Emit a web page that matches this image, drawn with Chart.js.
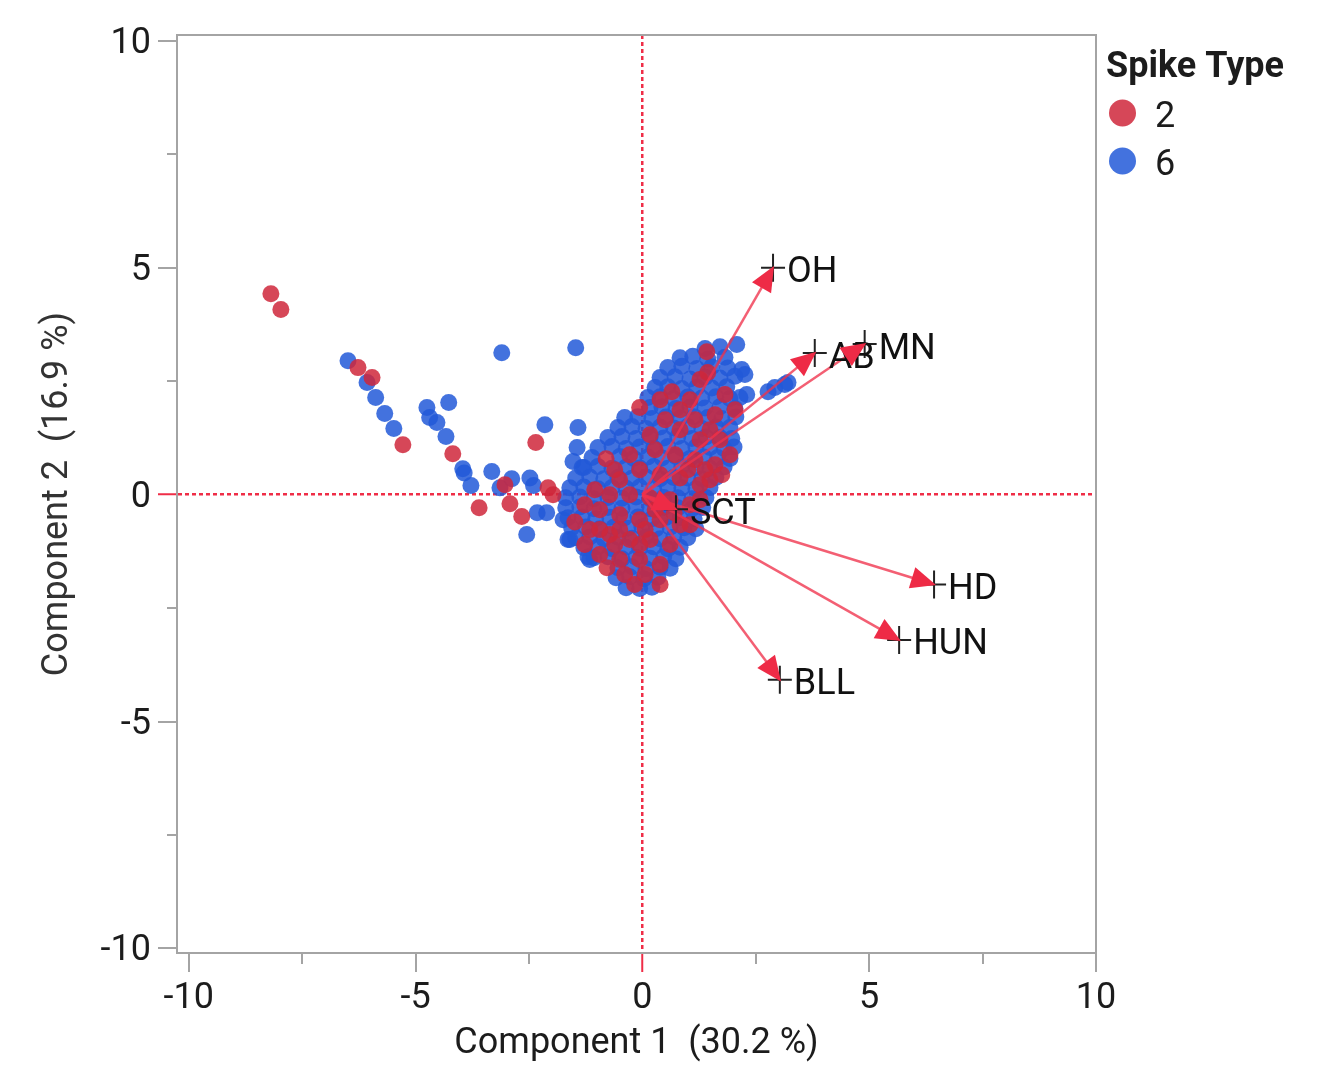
<!DOCTYPE html>
<html><head><meta charset="utf-8">
<script src="https://cdn.jsdelivr.net/npm/chart.js@4.4.0/dist/chart.umd.min.js"></script>
<style>html,body{margin:0;padding:0;background:#fff;overflow:hidden}canvas{display:block}</style>
</head><body>
<canvas id="c" width="1324" height="1066" style="width:1324px;height:1066px"></canvas>
<script>
// ---------- data ----------
const xTickValues = [-10, -7.5, -5, -2.5, 0, 2.5, 5, 7.5, 10];
const yTickValues = [-10, -7.5, -5, -2.5, 0, 2.5, 5, 7.5, 10];
const majorTicks = [-10, -5, 0, 5, 10];
const xTitle = 'Component 1  (30.2 %)';
const yTitle = 'Component 2  (16.9 %)';
const legendTitle = 'Spike Type';
const seriesNames = ['2', '6'];

const spike2Points = [
[-8.19,4.43],[-7.97,4.08],[-6.27,2.80],[-5.96,2.58],[-5.28,1.10],[-4.18,0.90],[-3.60,-0.29],[-3.03,0.22],
[-2.92,-0.20],[-2.66,-0.48],[-2.35,1.15],[-2.08,0.15],[-1.97,0.00],
[-0.06,1.92],[1.42,3.15],[-0.80,0.79],[0.65,2.27],[1.27,2.54],[1.05,2.09],[1.60,1.76],[2.04,1.87],[0.50,1.65],
[0.83,1.43],[1.27,1.21],[1.71,1.21],[0.28,0.99],[0.72,0.88],[1.16,0.77],[1.60,0.66],[1.93,0.88],[-0.06,0.55],
[0.39,0.44],[0.83,0.37],[1.27,0.22],[-0.50,0.33],[-0.72,0.00],[-0.28,0.00],[0.17,-0.07],[0.61,-0.11],[1.05,-0.22],
[-0.94,-0.33],[-0.50,-0.44],[-0.06,-0.55],[0.39,-0.55],[0.83,-0.66],[-1.49,-0.60],[-1.16,-0.77],[-0.72,-0.88],
[-0.28,-0.99],[0.17,-0.99],[0.61,-1.10],[-0.94,-1.32],[-0.50,-1.43],[-0.06,-1.43],[0.39,-1.54],[-0.78,-1.61],
[-0.39,-1.76],[0.06,-1.76],[-0.17,-1.98],[-1.27,-1.10],[0.28,-0.33],[0.06,-0.77],[1.05,-0.66],[1.27,-0.11],
[1.49,0.33],[1.75,0.44],[1.00,0.55],[0.17,1.32],[-0.28,0.88],[-0.61,0.55],[-1.05,0.11],[-1.27,-0.22],[0.83,1.87],
[1.16,1.65],[1.49,1.43],[0.39,2.09],[1.82,2.21],[1.38,0.55],[-0.50,-0.77],[-0.94,-0.77],[0.39,-1.98],[-0.61,-1.10],
[-0.06,-1.10],[1.44,2.69],[0.70,-0.40]
];

const spike6Points = [
[-6.49,2.95],[-6.07,2.47],[-5.88,2.14],[-5.68,1.79],[-5.48,1.46],[-3.10,3.13],[-1.47,3.24],
[-4.75,1.92],[-4.69,1.70],[-4.53,1.59],[-4.27,2.03],[-4.33,1.28],[-3.96,0.57],[-3.93,0.48],[-3.78,0.20],
[-3.32,0.51],[-3.14,0.15],[-2.88,0.35],[-2.48,0.37],[-2.55,-0.88],[-2.40,0.20],[-2.15,1.54],[-2.32,-0.40],
[-2.11,-0.40],[-1.75,-0.55],[-1.64,-0.99],[-1.42,1.48],[-1.44,1.04],[-1.53,0.73],[-1.33,0.60],[-1.20,-1.37],
[-1.60,-0.99],[-1.16,-1.43],
[1.38,3.22],[1.71,3.26],[2.08,3.31],
[0.83,3.02],[1.11,3.05],[1.44,2.99],[1.82,3.03],
[0.56,2.80],[0.87,2.83],[1.20,2.78],[1.53,2.82],[1.88,2.79],[2.19,2.76],
[0.39,2.58],[0.72,2.60],[1.05,2.55],[1.38,2.59],[1.71,2.57],[2.04,2.61],
[2.26,2.65],[2.30,2.21],[2.77,2.27],[2.92,2.36],[3.14,2.43],[3.21,2.47],
[0.28,2.36],[0.56,2.38],[0.87,2.34],[1.20,2.37],[1.53,2.35],[1.86,2.38],
[0.12,2.14],[0.39,2.16],[0.69,2.12],[1.00,2.15],[1.31,2.13],[1.62,2.16],[1.93,2.12],[2.15,2.14],
[0.17,1.92],[0.43,1.94],[0.74,1.90],[1.05,1.93],[1.38,1.91],[1.71,1.94],[2.04,1.90],
[-0.39,1.70],[-0.10,1.72],[0.21,1.68],[0.52,1.71],[0.83,1.69],[1.14,1.72],[1.44,1.70],[1.75,1.68],[2.06,1.71],
[-0.54,1.48],[-0.23,1.50],[0.08,1.46],[0.39,1.49],[0.69,1.47],[1.00,1.50],[1.31,1.46],[1.62,1.49],[1.93,1.48],
[-0.76,1.26],[-0.45,1.28],[-0.14,1.24],[0.17,1.27],[0.47,1.25],[0.78,1.28],[1.09,1.24],[1.40,1.27],[1.71,1.26],[1.97,1.24],
[-0.98,1.04],[-0.67,1.06],[-0.36,1.02],[-0.06,1.05],[0.25,1.03],[0.56,1.06],[0.87,1.02],[1.18,1.05],[1.49,1.04],[1.80,1.02],[2.02,1.05],
[-1.11,0.82],[-0.50,0.84],[-0.19,0.80],[0.12,0.83],[0.43,0.81],[0.74,0.84],[1.05,0.80],[1.36,0.83],[1.66,0.82],[1.93,0.80],
[-1.29,0.60],[-0.98,0.62],[-0.67,0.58],[-0.36,0.61],[-0.06,0.59],[0.25,0.62],[0.56,0.58],[0.87,0.61],[1.18,0.60],[1.49,0.58],[1.80,0.61],
[-1.47,0.37],[-1.16,0.39],[-0.85,0.35],[-0.54,0.38],[-0.23,0.36],[0.08,0.39],[0.39,0.35],[0.69,0.38],[1.00,0.37],[1.31,0.35],[1.62,0.38],
[-1.60,0.15],[-1.29,0.17],[-0.98,0.13],[-0.67,0.16],[-0.36,0.14],[-0.06,0.17],[0.25,0.13],[0.56,0.16],[0.87,0.15],[1.18,0.13],[1.49,0.16],
[-1.69,-0.07],[-1.38,-0.05],[-1.07,-0.09],[-0.76,-0.06],[-0.45,-0.08],[-0.14,-0.05],[0.17,-0.09],[0.47,-0.06],[0.78,-0.07],[1.09,-0.09],[1.40,-0.06],
[-1.69,-0.29],[-1.38,-0.27],[-1.07,-0.31],[-0.76,-0.28],[-0.45,-0.30],[-0.14,-0.27],[0.17,-0.31],[0.47,-0.28],[0.78,-0.29],[1.09,-0.31],[1.33,-0.28],
[-1.64,-0.51],[-1.33,-0.49],[-1.03,-0.53],[-0.72,-0.50],[-0.41,-0.52],[-0.10,-0.49],[0.21,-0.53],[0.52,-0.50],[0.83,-0.51],[1.14,-0.53],
[-1.56,-0.73],[-1.25,-0.71],[-0.94,-0.75],[-0.63,-0.72],[-0.32,-0.74],[-0.01,-0.71],[0.30,-0.75],[0.61,-0.72],[0.92,-0.73],[1.18,-0.75],
[-1.47,-0.95],[-1.16,-0.93],[-0.85,-0.97],[-0.54,-0.94],[-0.23,-0.96],[0.08,-0.93],[0.39,-0.97],[0.69,-0.94],[1.00,-0.95],
[-1.29,-1.17],[-0.98,-1.15],[-0.67,-1.19],[-0.36,-1.16],[-0.06,-1.18],[0.25,-1.15],[0.56,-1.19],[0.83,-1.16],
[-1.07,-1.39],[-0.76,-1.37],[-0.45,-1.41],[-0.14,-1.38],[0.17,-1.40],[0.47,-1.37],[0.74,-1.41],
[-0.54,-1.61],[-0.23,-1.59],[0.08,-1.63],[0.39,-1.60],[0.61,-1.62],
[-0.58,-1.83],[-0.28,-1.81],[0.03,-1.85],[0.34,-1.82],
[-0.36,-2.05],[-0.06,-2.07],[0.21,-2.04]
];

const rayLabels = ['OH', 'AB', 'MN', 'SCT', 'HD', 'HUN', 'BLL'];
const rayX = [2.88, 3.80, 4.90, 0.74, 6.43, 5.66, 3.03];
const rayY = [5.00, 3.12, 3.32, -0.32, -1.98, -3.20, -4.08];

// ---------- style ----------
const FONT = 'Roboto';
const axisGray = '#a4a4a4';
const zeroRed = '#ef2d47';
const textColor = '#1c1c1c';
const redFill = 'rgba(207,39,59,0.85)';
const blueFill = 'rgba(34,89,216,0.85)';
const redSolid = '#d64758';
const blueSolid = '#4372de';

const isMajor = v => majorTicks.includes(v);
const tickVal = ctx => (ctx.tick ? ctx.tick.value : null);

function axisCfg(values, isX) {
  return {
    type: 'linear',
    position: isX ? 'bottom' : 'left',
    min: isX ? -10.26 : -10.1,
    max: isX ? 10.0 : 10.13,
    afterBuildTicks: s => { s.ticks = values.map(v => ({ value: v })); },
    afterFit: s => { if (isX) s.height = 113; else s.width = 177; },
    ticks: {
      autoSkip: false, maxRotation: 0, minRotation: 0,
      padding: isX ? 5 : 7,
      labelOffset: isX ? 0 : 3,
      color: textColor,
      font: { family: FONT, size: 36 },
      callback: v => (isMajor(v) ? String(v) : '')
    },
    grid: {
      drawOnChartArea: true,
      color: ctx => (tickVal(ctx) === 0 ? zeroRed : 'rgba(0,0,0,0)'),
      lineWidth: ctx => (tickVal(ctx) === 0 ? 2.5 : 0),
      tickLength: 19,
      tickColor: ctx => (tickVal(ctx) === 0 ? zeroRed : axisGray),
      tickWidth: ctx => (isMajor(tickVal(ctx)) ? 2 : 0)
    },
    border: { display: true, color: axisGray, width: 2, dash: [4, 3] },
    title: {
      display: true,
      text: isX ? xTitle : yTitle,
      color: isX ? textColor : '#333',
      font: { family: FONT, size: 36 },
      padding: isX ? { top: 0, bottom: 0 } : { top: 36, bottom: 0 }
    }
  };
}

const framePlugin = {
  id: 'frame',
  beforeDatasetsDraw(chart) {
    const { ctx, chartArea: a } = chart;
    const xs = chart.scales.x, ys = chart.scales.y;
    ctx.save();
    ctx.strokeStyle = axisGray;
    ctx.lineWidth = 2;
    ctx.beginPath();
    ctx.moveTo(a.left - 1, a.top);
    ctx.lineTo(a.right, a.top);
    ctx.lineTo(a.right, a.bottom + 1);
    ctx.stroke();
    ctx.beginPath();
    xTickValues.filter(v => !isMajor(v)).forEach(v => {
      const p = Math.round(xs.getPixelForValue(v));
      ctx.moveTo(p, a.bottom); ctx.lineTo(p, a.bottom + 11);
    });
    yTickValues.filter(v => !isMajor(v)).forEach(v => {
      const p = Math.round(ys.getPixelForValue(v));
      ctx.moveTo(a.left, p); ctx.lineTo(a.left - 10, p);
    });
    ctx.stroke();
    ctx.restore();
  }
};

const rayPlugin = {
  id: 'rays',
  afterDatasetsDraw(chart) {
    const { ctx } = chart;
    const xs = chart.scales.x, ys = chart.scales.y;
    const ox = xs.getPixelForValue(0), oy = ys.getPixelForValue(0);
    const pts = rayLabels.map((l, i) => [xs.getPixelForValue(rayX[i]), ys.getPixelForValue(rayY[i])]);
    ctx.save();
    ctx.strokeStyle = 'rgba(240,50,75,0.78)';
    ctx.lineWidth = 2.5;
    pts.forEach(([px, py]) => {
      ctx.beginPath(); ctx.moveTo(ox, oy); ctx.lineTo(px, py); ctx.stroke();
    });
    ctx.strokeStyle = '#222';
    ctx.lineWidth = 2;
    pts.forEach(([px, py]) => {
      ctx.beginPath();
      ctx.moveTo(px, py - 14); ctx.lineTo(px, py + 14);
      ctx.moveTo(px - 12, py); ctx.lineTo(px + 12, py);
      ctx.stroke();
    });
    ctx.fillStyle = '#111';
    ctx.font = '36px ' + FONT;
    ctx.textAlign = 'left';
    ctx.textBaseline = 'alphabetic';
    pts.forEach(([px, py], i) => { ctx.fillText(rayLabels[i], px + 14, py + 14.5); });
    ctx.fillStyle = '#ee2b46';
    pts.forEach(([px, py]) => {
      const dx = px - ox, dy = py - oy, L = Math.hypot(dx, dy);
      const ux = dx / L, uy = dy / L, nx = -uy, ny = ux;
      const bx = px - ux * 23, by = py - uy * 23;
      ctx.beginPath();
      ctx.moveTo(px + ux * 2, py + uy * 2);
      ctx.lineTo(bx + nx * 11, by + ny * 11);
      ctx.lineTo(bx - nx * 11, by - ny * 11);
      ctx.closePath();
      ctx.fill();
    });
    ctx.restore();
  }
};

const legendPlugin = {
  id: 'sideLegend',
  afterDraw(chart) {
    const { ctx } = chart;
    ctx.save();
    ctx.fillStyle = textColor;
    ctx.textBaseline = 'alphabetic';
    ctx.textAlign = 'left';
    ctx.font = 'bold 36px ' + FONT;
    ctx.fillText(legendTitle, 1106, 77);
    const cols = [redSolid, blueSolid];
    const rowsY = [113, 161];
    ctx.font = '36px ' + FONT;
    seriesNames.forEach((n, i) => {
      ctx.beginPath();
      ctx.arc(1122.5, rowsY[i], 13.5, 0, Math.PI * 2);
      ctx.fillStyle = cols[i];
      ctx.fill();
      ctx.fillStyle = textColor;
      ctx.fillText(n, 1155, rowsY[i] + 13.5);
    });
    ctx.restore();
  }
};

new Chart(document.getElementById('c'), {
  type: 'scatter',
  data: {
    datasets: [
      { label: seriesNames[0], data: spike2Points.map(([x, y]) => ({ x, y })), backgroundColor: redFill, borderWidth: 0, pointRadius: 8.5, pointHoverRadius: 8.5 },
      { label: seriesNames[1], data: spike6Points.map(([x, y]) => ({ x, y })), backgroundColor: blueFill, borderWidth: 0, pointRadius: 8.5, pointHoverRadius: 8.5 }
    ]
  },
  options: {
    responsive: false,
    animation: false,
    devicePixelRatio: 1,
    events: [],
    layout: { padding: { left: 0, right: 228, top: 35, bottom: 0 } },
    plugins: { legend: { display: false }, tooltip: { enabled: false } },
    scales: { x: axisCfg(xTickValues, true), y: axisCfg(yTickValues, false) }
  },
  plugins: [framePlugin, rayPlugin, legendPlugin]
});
</script>
</body></html>
